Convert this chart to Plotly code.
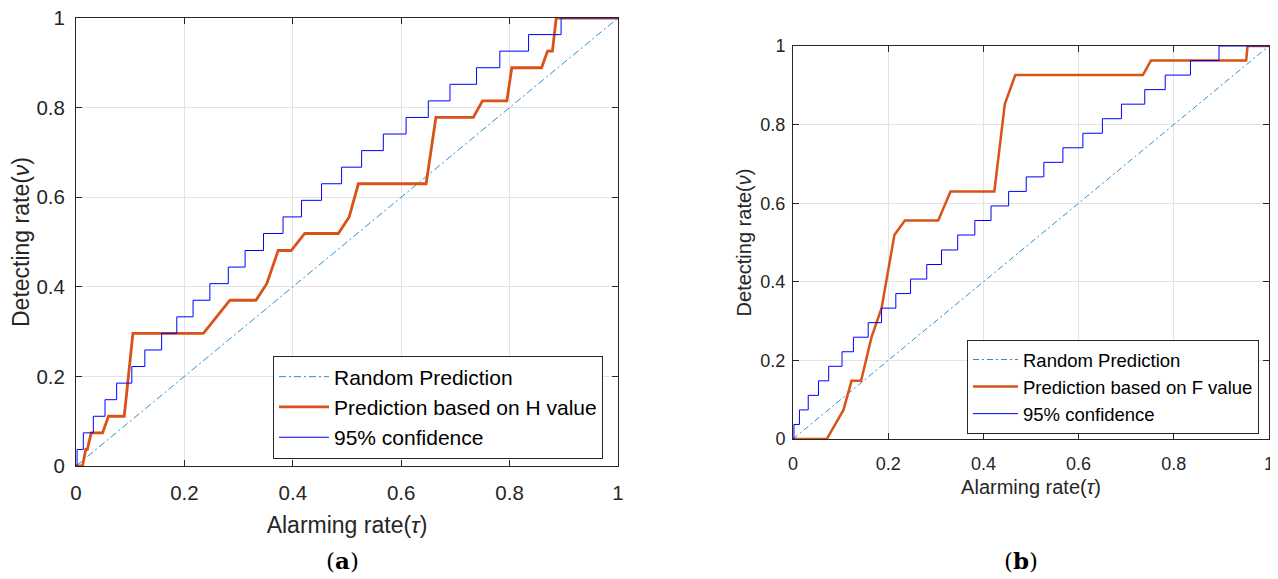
import plotly.graph_objects as go

# ---------------- data ----------------
rand_x = [0, 1]
rand_y = [0, 1]

# 95% confidence staircase (shared by both panels)
conf_x = [0, 0.002, 0.0135, 0.032, 0.0535, 0.075, 0.103, 0.127, 0.158, 0.186, 0.216,
          0.247, 0.281, 0.312, 0.346, 0.382, 0.416, 0.453, 0.490, 0.527, 0.567,
          0.609, 0.650, 0.690, 0.739, 0.782, 0.835, 0.895, 1.0]
conf_y = [0, 0.037, 0.074, 0.111, 0.148, 0.185, 0.222, 0.259, 0.296, 0.333, 0.370,
          0.407, 0.444, 0.481, 0.519, 0.556, 0.593, 0.630, 0.667, 0.704, 0.741,
          0.778, 0.815, 0.852, 0.889, 0.926, 0.963, 1.0, 1.0]

# Prediction based on H value (panel a)
h_x = [0, 0.012, 0.018, 0.021, 0.028, 0.049, 0.060, 0.089, 0.105, 0.235, 0.284,
       0.332, 0.352, 0.373, 0.397, 0.422, 0.484, 0.504, 0.521, 0.646, 0.664,
       0.733, 0.750, 0.795, 0.804, 0.859, 0.870, 0.879, 0.886, 1.0]
h_y = [0, 0, 0.037, 0.037, 0.074, 0.074, 0.111, 0.111, 0.296, 0.296, 0.370,
       0.370, 0.407, 0.481, 0.481, 0.519, 0.519, 0.556, 0.630, 0.630, 0.778,
       0.778, 0.815, 0.815, 0.889, 0.889, 0.926, 0.926, 1.0, 1.0]

# Prediction based on F value (panel b)
f_x = [0, 0.071, 0.106, 0.123, 0.143, 0.165, 0.186, 0.213, 0.235, 0.305, 0.331,
       0.423, 0.445, 0.467, 0.735, 0.752, 0.952, 0.955, 1.0]
f_y = [0, 0, 0.074, 0.148, 0.148, 0.259, 0.333, 0.519, 0.556, 0.556, 0.630,
       0.630, 0.852, 0.926, 0.926, 0.963, 0.963, 1.0, 1.0]

tick_vals = [0, 0.2, 0.4, 0.6, 0.8, 1]
tick_text = ["0", "0.2", "0.4", "0.6", "0.8", "1"]

# ---------------- figure ----------------
BODY = 8                      # default page margin around the plot div
W, H = 1278 - BODY, 579 - BODY
FONT = "Liberation Sans, Arial, sans-serif"
INK = "#262626"
GRID = "#e3e3e3"
C_RAND = "#2a8fd4"
C_ORANGE = "#D95319"
C_BLUE = "#0000FF"

fig = go.Figure()

# panel a
fig.add_trace(go.Scatter(x=rand_x, y=rand_y, mode="lines", name="Random Prediction",
                         line=dict(color=C_RAND, width=1, dash="7px,3px,2px,3px"),
                         xaxis="x", yaxis="y", legend="legend"))
fig.add_trace(go.Scatter(x=h_x, y=h_y, mode="lines", name="Prediction based on H value",
                         line=dict(color=C_ORANGE, width=2.8),
                         xaxis="x", yaxis="y", legend="legend"))
fig.add_trace(go.Scatter(x=conf_x, y=conf_y, mode="lines", name="95% confidence",
                         line=dict(color=C_BLUE, width=1, shape="hv"),
                         xaxis="x", yaxis="y", legend="legend"))

# panel b
fig.add_trace(go.Scatter(x=rand_x, y=rand_y, mode="lines", name="Random Prediction",
                         line=dict(color=C_RAND, width=1, dash="6px,3px,2px,3px"),
                         xaxis="x2", yaxis="y2", legend="legend2"))
fig.add_trace(go.Scatter(x=f_x, y=f_y, mode="lines", name="Prediction based on F value",
                         line=dict(color=C_ORANGE, width=2.5),
                         xaxis="x2", yaxis="y2", legend="legend2"))
fig.add_trace(go.Scatter(x=conf_x, y=conf_y, mode="lines", name="95% confidence",
                         line=dict(color=C_BLUE, width=1, shape="hv"),
                         xaxis="x2", yaxis="y2", legend="legend2"))


def px_x(p):
    return (p - BODY) / W


def px_y(p):
    return 1 - (p - BODY) / H


def axis(domain, anchor, title, fs, tfs, standoff, lab_off):
    return dict(domain=domain, anchor=anchor, range=[0, 1],
                tickvals=tick_vals, ticktext=tick_text,
                ticks="inside", ticklen=6, tickwidth=1, tickcolor=INK,
                showline=True, linecolor=INK, linewidth=1, mirror="ticks",
                showgrid=True, gridcolor=GRID, gridwidth=1, zeroline=False,
                tickfont=dict(family=FONT, size=tfs, color=INK),
                ticklabelstandoff=lab_off, ticklabeloverflow="allow",
                title=dict(text=title, font=dict(family=FONT, size=fs, color=INK),
                           standoff=standoff),
                automargin=False, fixedrange=True)


xa = axis([px_x(76), px_x(618)], "y", "Alarming rate(<i>τ</i>)", 23, 20.5, 14, 8)
ya = axis([px_y(466), px_y(18)], "x", "Detecting rate(<i>ν</i>)", 23, 20.5, 6, 6)
xb = axis([px_x(793), px_x(1269)], "y2", "Alarming rate(<i>τ</i>)", 20, 18, 7, 8)
yb = axis([px_y(439), px_y(46)], "x2", "Detecting rate(<i>ν</i>)", 20, 18, 3, 3)

fig.update_layout(
    width=W, height=H,
    margin=dict(l=0, r=0, t=0, b=0, pad=0, autoexpand=False),
    paper_bgcolor="white", plot_bgcolor="white",
    xaxis=xa, yaxis=ya, xaxis2=xb, yaxis2=yb,
    legend=dict(x=px_x(273), y=px_y(407), xanchor="left", yanchor="middle",
                bgcolor="white", bordercolor=INK, borderwidth=1,
                font=dict(family=FONT, size=21, color="#000"),
                itemwidth=50, tracegroupgap=0),
    legend2=dict(x=px_x(967), y=px_y(387), xanchor="left", yanchor="middle",
                 bgcolor="white", bordercolor=INK, borderwidth=1,
                 font=dict(family=FONT, size=18.5, color="#000"),
                 itemwidth=45, tracegroupgap=0),
    annotations=[
        dict(text="(<b>a</b>)", x=px_x(342), y=px_y(560), xref="paper", yref="paper",
             xanchor="center", yanchor="middle", showarrow=False,
             font=dict(family="DejaVu Serif, serif", size=23, color="#000")),
        dict(text="(<b>b</b>)", x=px_x(1021), y=px_y(560), xref="paper", yref="paper",
             xanchor="center", yanchor="middle", showarrow=False,
             font=dict(family="DejaVu Serif, serif", size=23, color="#000")),
    ],
)

fig.write_html("out.html")
